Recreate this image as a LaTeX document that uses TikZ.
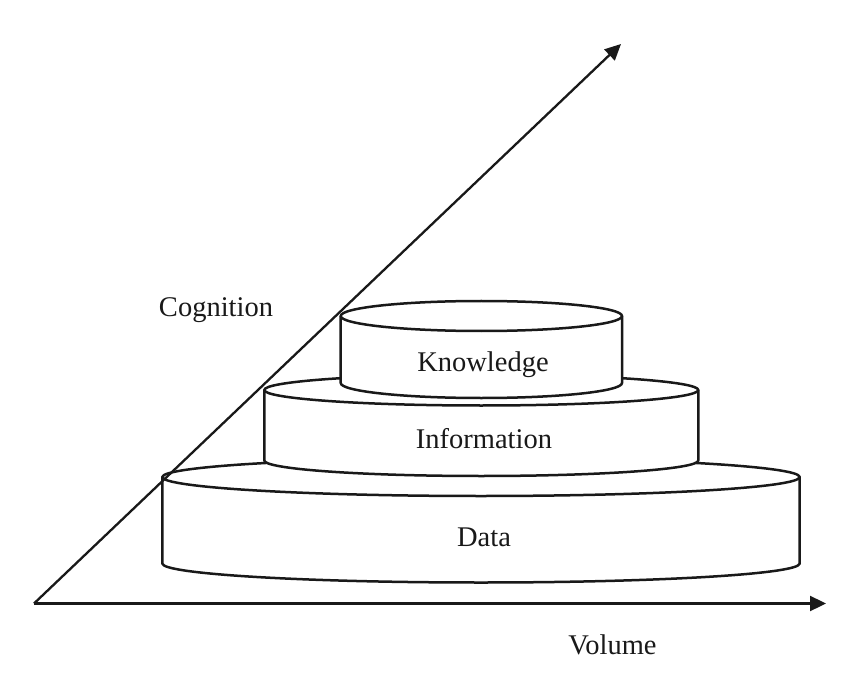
\documentclass[tikz,border=0pt]{standalone}
\usepackage{fontspec}
\setmainfont{Liberation Serif}
\usetikzlibrary{arrows.meta}
\tikzset{
  cyl/.style={draw=black!90, line width=2.5pt, fill=white, line join=round},
  axis/.style={draw=black!90, line width=2.3pt, -{Triangle[length=16pt,width=15pt]}},
  lbl/.style={anchor=base, inner sep=0pt, font=\fontsize{28.5}{34}\selectfont, text=black!90}
}
\newcommand{\mycyl}[6]{% x1, x2, ytop, ybot, rx, ry
  \path[cyl] (#1,#3) -- (#1,#4) arc[start angle=180,end angle=360,x radius=#5,y radius=#6]
    -- (#2,#3) arc[start angle=0,end angle=180,x radius=#5,y radius=#6] -- cycle;
  \draw[cyl,fill=none] (#1,#3) arc[start angle=180,end angle=360,x radius=#5,y radius=#6];
}
\begin{document}
\begin{tikzpicture}[x=1pt,y=1pt]
\useasboundingbox (0,0) rectangle (850,686);
% Data
\mycyl{162.3}{799.7}{209}{122.5}{318.7}{19}
% Information
\mycyl{264.3}{698.3}{296}{225.5}{217}{15.5}
% Knowledge
\mycyl{340.7}{622}{370}{303}{140.65}{15}
\node[lbl] (data) at (484,140) {Data};
\node[lbl] (info) at (484,237.7) {Information};
\node[lbl] (know) at (483,314.3) {Knowledge};
\node[lbl] (cog) at (216,370) {Cognition};
\node[lbl] (vol) at (612.5,32) {Volume};
\coordinate (O) at (34,82.5);
\coordinate (vtip) at (826,82.5);
\coordinate (ctip) at (621,642);
\draw[axis] (O) -- (vtip);
\draw[axis] (O) -- (ctip);
\end{tikzpicture}
\end{document}
